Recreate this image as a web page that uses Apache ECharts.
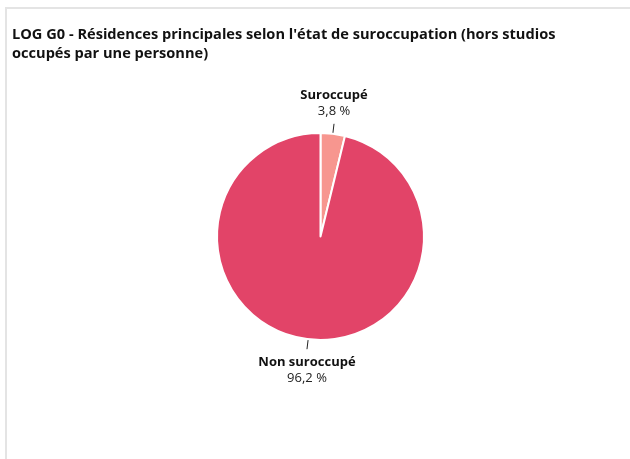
<!DOCTYPE html>
<html>
<head>
<meta charset="utf-8">
<script src="https://cdn.jsdelivr.net/npm/echarts@6/dist/echarts.min.js"></script>
<style>
html,body{margin:0;padding:0;background:#fff;width:630px;height:459px;overflow:hidden;}
#frame{position:absolute;left:5px;top:7px;width:640px;height:470px;border-left:2px solid #e4e4e4;border-top:2px solid #e4e4e4;}
#chart{position:absolute;left:0;top:0;width:630px;height:459px;}
</style>
</head>
<body>
<div id="frame"></div>
<div id="chart"></div>
<script>
const titleText = "LOG G0 - Résidences principales selon l'état de suroccupation (hors studios\noccupés par une personne)";
const categories = ["Suroccupé", "Non suroccupé"];
const values = [3.8, 96.2];
const colors = ["#f7968f", "#e24468"];

const chart = echarts.init(document.getElementById('chart'));
const fmt = v => v.toFixed(1).replace('.', ',');

chart.setOption({
  animation: false,
  title: {
    text: titleText,
    left: 7,
    top: 20,
    textStyle: {
      fontFamily: 'Open Sans',
      fontSize: 14.6,
      fontWeight: 'bold',
      color: '#111',
      lineHeight: 19
    }
  },
  series: [{
    type: 'pie',
    center: [320.5, 236.5],
    radius: [0, 103.5],
    startAngle: 90,
    clockwise: true,
    itemStyle: { borderColor: '#fff', borderWidth: 2 },
    label: {
      show: true,
      position: 'outside',
      formatter: p => '{n|' + p.name + '}\n{v|' + fmt(p.value) + ' %}',
      rich: {
        n: { fontFamily: 'Open Sans', fontSize: 13, fontWeight: 'bold', color: '#111', lineHeight: 16 },
        v: { fontFamily: 'Open Sans', fontSize: 13, color: '#222', lineHeight: 16 }
      }
    },
    labelLine: {
      show: true,
      length: 10,
      length2: 0,
      lineStyle: { color: '#222', width: 1 }
    },
    labelLayout: function (params) {
      const pts = params.labelLinePoints;
      if (!pts) return {};
      const start = pts[0], end = pts[1];
      const up = end[1] < start[1];
      return {
        x: end[0],
        y: up ? end[1] - 4.5 : end[1] + 5,
        align: 'center',
        verticalAlign: up ? 'bottom' : 'top',
        labelLinePoints: [start, end, end]
      };
    },
    data: categories.map((c, i) => ({ name: c, value: values[i], itemStyle: { color: colors[i] } }))
  }]
});
</script>
</body>
</html>
